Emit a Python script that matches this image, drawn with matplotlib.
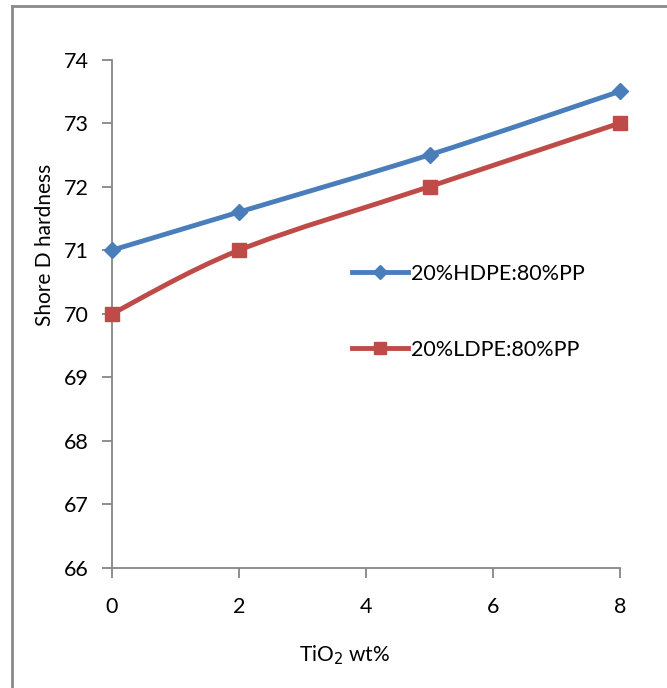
import matplotlib
matplotlib.use("Agg")
import matplotlib.pyplot as plt
from matplotlib.path import Path
from matplotlib.patches import PathPatch
from matplotlib.lines import Line2D
import numpy as np

plt.rcParams['font.family'] = ['Lato', 'DejaVu Sans']

tio2 = [0, 2, 5, 8]
hdpe = [71.0, 71.6, 72.5, 73.5]
ldpe = [70.0, 71.0, 72.0, 73.0]
labels = ["20%HDPE:80%PP", "20%LDPE:80%PP"]
colors = ["#4A7EBB", "#BE4B48"]
markers = ["D", "s"]
msizes = [8.5, 9.5]

W, H = 667, 688
fig = plt.figure(figsize=(W / 100, H / 100), dpi=100)
ax = fig.add_axes([112 / W, 1 - 568 / H, (620 - 112) / W, (568 - 59.5) / H])


def smooth_path(xs, ys):
    pts = np.column_stack([xs, ys]).astype(float)
    n = len(pts)
    verts = [pts[0]]
    codes = [Path.MOVETO]
    for i in range(n - 1):
        p0 = pts[i - 1] if i > 0 else pts[i]
        p1 = pts[i]
        p2 = pts[i + 1]
        p3 = pts[i + 2] if i + 2 < n else pts[i + 1]
        c1 = p1 + (p2 - p0) / 6.0
        c2 = p2 - (p3 - p1) / 6.0
        verts += [c1, c2, p2]
        codes += [Path.CURVE4] * 3
    return Path(verts, codes)


handles = []
for ys, c, m, ms, lab in zip([hdpe, ldpe], colors, markers, msizes, labels):
    patch = PathPatch(smooth_path(tio2, ys), facecolor='none', edgecolor=c,
                      lw=3.5, capstyle='round', joinstyle='round', zorder=3)
    ax.add_patch(patch)
    ax.plot(tio2, ys, linestyle='none', marker=m, color=c, markersize=ms,
            zorder=4, clip_on=False)
    handles.append(Line2D([], [], color=c, lw=3.5, marker=m, markersize=ms - 1))

ax.set_xlim(0, 8)
ax.set_ylim(66, 74)
ax.set_xticks([0, 2, 4, 6, 8])
ax.set_yticks(range(66, 75))
for s in ['top', 'right']:
    ax.spines[s].set_visible(False)
for s in ['left', 'bottom']:
    ax.spines[s].set_color('#868686')
    ax.spines[s].set_linewidth(1.3)
ax.tick_params(axis='both', direction='out', length=7, width=1.3,
               color='#868686', labelsize=15.5, labelcolor='black')
ax.tick_params(axis='x', pad=14)
ax.tick_params(axis='y', pad=10)

leg = ax.legend(handles, labels, loc='upper left',
                bbox_to_anchor=((352 - 112) / (620 - 112), 1 - (264 - 59.5) / (568 - 59.5)),
                frameon=False, fontsize=15.5, handlelength=2.6, handletextpad=0.15,
                labelspacing=2.6, borderaxespad=0, borderpad=0)

fig.text(45 / W, 1 - 245 / H, "Shore D hardness", rotation=90, ha='center', va='center',
         fontsize=15)
fig.text(345 / W, 1 - 655 / H, r"TiO$_2$ wt%", ha='center', va='center', fontsize=15)

# outer frame (top and left)
fig.add_artist(Line2D([12 / W, 12 / W], [0, 1 - 6 / H], transform=fig.transFigure,
                      color='#8a8a8a', lw=2))
fig.add_artist(Line2D([12 / W, 1], [1 - 6 / H, 1 - 6 / H], transform=fig.transFigure,
                      color='#8a8a8a', lw=2))

fig.savefig("out.png", dpi=100)
